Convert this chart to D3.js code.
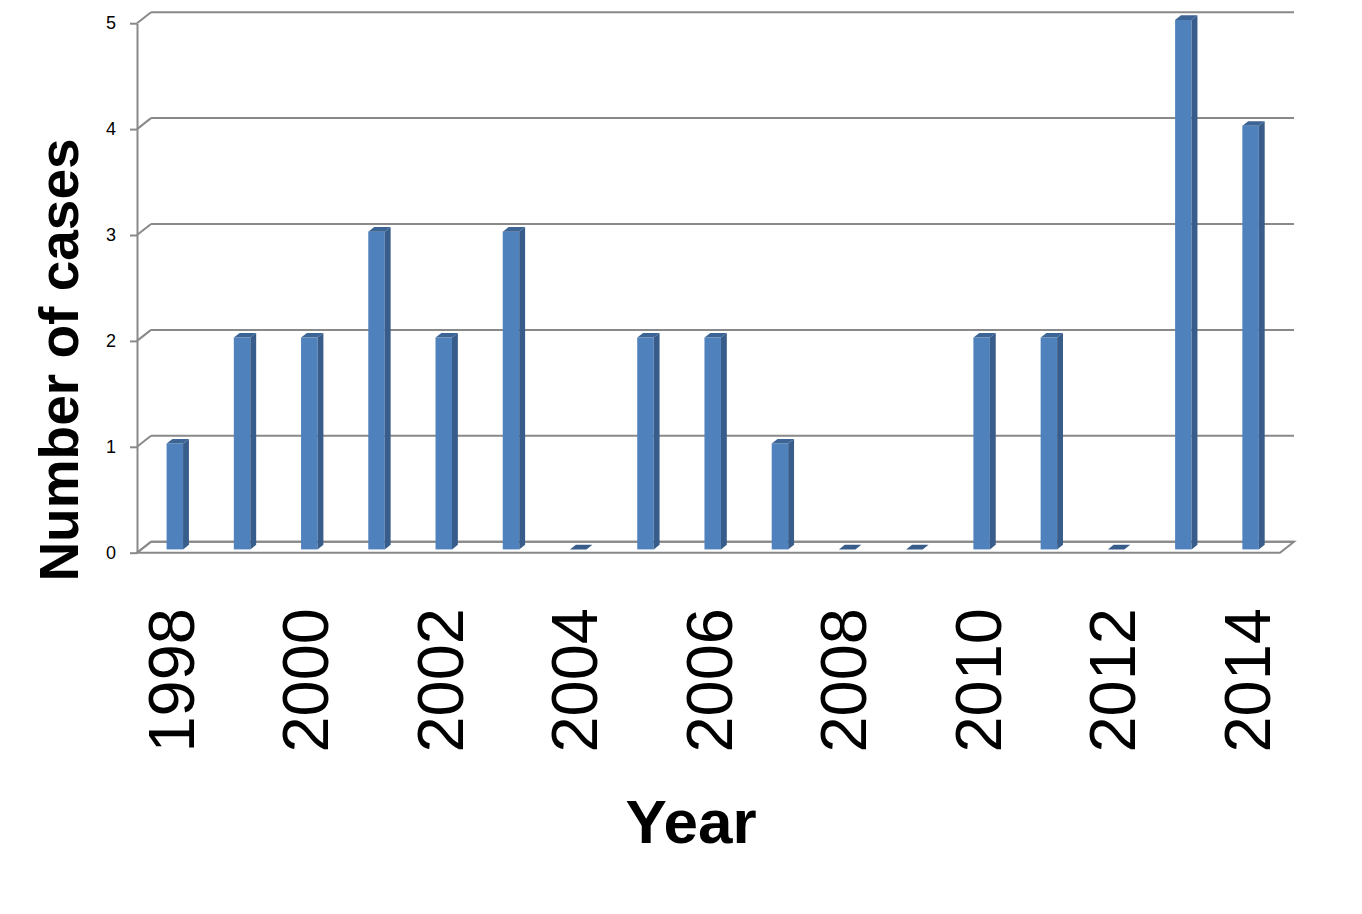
<!DOCTYPE html>
<html>
<head>
<meta charset="utf-8">
<script src="https://cdn.jsdelivr.net/npm/d3@7/dist/d3.min.js"></script>
<style>
  html, body { margin: 0; padding: 0; background: #ffffff; }
  svg { display: block; }
</style>
</head>
<body>
<svg id="chart" width="1362" height="914"></svg>
<script>
// ---- data ----
const years = [1998, 1999, 2000, 2001, 2002, 2003, 2004, 2005, 2006, 2007, 2008, 2009, 2010, 2011, 2012, 2013, 2014];
const cases = [1, 2, 2, 3, 2, 3, 0, 2, 2, 1, 0, 0, 2, 2, 0, 5, 4];
const yTicks = [0, 1, 2, 3, 4, 5];
const xLabelYears = [1998, 2000, 2002, 2004, 2006, 2008, 2010, 2012, 2014];
const yTitle = "Number of cases";
const xTitle = "Year";

// ---- layout ----
const svg = d3.select("#chart");
const front = { left: 137, right: 1280, top: 23.2, bottom: 552.7 };
const DX = 14, DY = -11;          // depth offset (front -> back wall)
const gridColor = "#898989";
const faceColor = "#4F81BD", sideColor = "#385D8A", topColor = "#3C6596";

const x = d3.scaleBand().domain(years).range([front.left, front.right]).paddingInner(0).paddingOuter(0);
const y = d3.scaleLinear().domain([0, 5]).range([front.bottom, front.top]);

// floor
const g = svg.append("g");
g.append("polygon")
  .attr("points", [
    [front.left, y(0)], [front.right, y(0)],
    [front.right + DX, y(0) + DY], [front.left + DX, y(0) + DY]
  ].map(p => p.join(",")).join(" "))
  .attr("fill", "#ffffff").attr("stroke", gridColor).attr("stroke-width", 2);

// gridlines on back wall + diagonal connectors
yTicks.forEach(t => {
  g.append("line")
    .attr("x1", front.left + DX).attr("x2", front.right + DX)
    .attr("y1", y(t) + DY).attr("y2", y(t) + DY)
    .attr("stroke", gridColor).attr("stroke-width", 2);
  g.append("line")
    .attr("x1", front.left).attr("x2", front.left + DX)
    .attr("y1", y(t)).attr("y2", y(t) + DY)
    .attr("stroke", gridColor).attr("stroke-width", 2);
});

// y axis
const yAxis = d3.axisLeft(y).tickValues(yTicks).tickSize(7).tickSizeOuter(0).tickPadding(14).tickFormat(d3.format("d"));
const ya = svg.append("g").attr("transform", `translate(${front.left},0)`).call(yAxis);
ya.attr("font-size", null).attr("font-family", null);
ya.select(".domain").attr("stroke", gridColor).attr("stroke-width", 2);
ya.selectAll(".tick line").attr("stroke", gridColor).attr("stroke-width", 2);
ya.selectAll(".tick text")
  .style("font-family", "'Liberation Sans', Arial, sans-serif")
  .style("font-size", "18px").attr("fill", "#000");

// bars
const dFront = 0.3, dDepth = 0.42;
const barW = x.bandwidth() * 0.245;
const sdx = DX * dDepth, sdy = DY * dDepth;
const bars = svg.append("g");
years.forEach((yr, i) => {
  const v = cases[i];
  const xf = x(yr) + x.bandwidth() / 2 - barW / 2 + DX * dFront;
  const yb = y(0) + DY * dFront;
  const yt = y(v) + DY * dFront;
  if (v > 0) {
    bars.append("rect")
      .attr("x", xf).attr("y", yt).attr("width", barW).attr("height", yb - yt)
      .attr("fill", faceColor);
    bars.append("polygon")
      .attr("points", [[xf + barW, yt], [xf + barW + sdx, yt + sdy], [xf + barW + sdx, yb + sdy], [xf + barW, yb]].map(p => p.join(",")).join(" "))
      .attr("fill", sideColor);
  }
  bars.append("polygon")
    .attr("points", [[xf, yt], [xf + sdx, yt + sdy], [xf + barW + sdx, yt + sdy], [xf + barW, yt]].map(p => p.join(",")).join(" "))
    .attr("fill", v > 0 ? topColor : sideColor);
});

// x labels
const xl = svg.append("g");
xLabelYears.forEach(yr => {
  const cx = x(yr) + x.bandwidth() / 2;
  xl.append("text")
    .attr("transform", `translate(${cx},608) rotate(-90)`)
    .attr("text-anchor", "end")
    .attr("dy", "0.36em")
    .attr("font-family", "'Liberation Sans', Arial, sans-serif")
    .attr("font-size", 65)
    .attr("fill", "#000")
    .text(yr);
});

// titles
svg.append("text")
  .attr("transform", "translate(78,360) rotate(-90)")
  .attr("text-anchor", "middle")
  .attr("font-family", "'Liberation Sans', Arial, sans-serif")
  .attr("font-weight", "bold").attr("font-size", 55)
  .attr("fill", "#000")
  .text(yTitle);

svg.append("text")
  .attr("x", 691).attr("y", 843)
  .attr("text-anchor", "middle")
  .attr("font-family", "'Liberation Sans', Arial, sans-serif")
  .attr("font-weight", "bold").attr("font-size", 62)
  .attr("fill", "#000")
  .text(xTitle);
</script>
</body>
</html>
